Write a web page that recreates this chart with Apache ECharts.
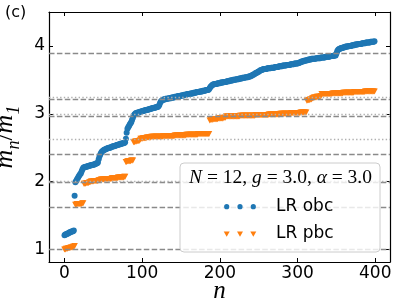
<!DOCTYPE html>
<html><head><meta charset="utf-8">
<script src="https://cdn.jsdelivr.net/npm/echarts@6/dist/echarts.min.js"></script>
<style>html,body{margin:0;padding:0;background:#fff}#c{width:407px;height:305px}</style>
</head><body><div id="c"></div>
<script>
// m_n/m_1 for open boundary conditions (LR obc), n = 0..399
const obc = [
1.21,1.22,1.22,1.23,1.23,1.24,1.25,1.25,1.26,1.26,1.27,1.27,1.28,
1.79,
1.99,2.01,2.03,2.05,2.07,2.09,2.11,2.12,
2.15,2.18,2.20,
2.21,2.21,2.22,2.22,2.22,2.23,2.23,2.23,2.24,2.24,2.24,2.25,2.25,2.25,2.26,2.26,2.27,2.27,2.28,
2.33,2.37,2.40,
2.42,2.44,2.45,2.46,2.47,2.47,2.48,
2.48,2.49,2.49,2.50,2.50,2.50,2.51,2.51,2.52,2.52,2.52,2.53,2.53,2.54,2.54,2.54,2.55,2.55,2.55,2.56,2.56,2.56,2.57,2.57,2.58,
2.63,2.72,2.78,
2.80,2.82,2.84,2.86,2.88,2.91,2.94,
2.97,2.99,3.00,3.01,
3.01,3.02,3.02,3.02,3.03,3.03,3.03,3.04,3.04,3.04,3.05,3.05,3.05,3.06,3.06,3.06,3.07,3.07,3.07,3.08,3.08,3.08,3.09,3.09,3.09,3.10,3.10,3.10,3.11,
3.13,3.16,3.18,3.19,3.20,3.21,
3.21,3.21,3.22,3.22,3.22,3.22,3.23,3.23,3.23,3.23,3.24,3.24,3.24,3.24,3.25,3.25,3.25,3.25,3.26,3.26,3.26,3.26,3.27,3.27,3.27,3.27,3.28,3.28,3.28,3.28,3.29,3.29,3.29,3.29,3.30,3.30,3.30,3.30,3.31,3.31,3.31,3.31,3.32,3.32,3.32,3.32,3.33,3.33,3.33,3.33,3.34,3.34,3.34,3.34,3.35,3.35,3.35,3.35,
3.36,3.38,3.40,3.41,3.42,3.43,3.43,3.44,3.44,3.44,
3.44,3.45,3.45,3.45,3.45,3.46,3.46,3.46,3.46,3.47,3.47,3.47,3.47,3.48,3.48,3.48,3.48,3.49,3.49,3.49,3.49,3.50,3.50,3.50,3.50,3.51,3.51,3.51,3.51,3.52,3.52,3.52,3.52,3.53,3.53,3.53,3.53,3.54,3.54,3.54,3.54,3.55,3.55,3.55,
3.56,3.56,3.57,3.58,3.58,3.59,3.60,3.60,3.61,3.62,3.62,3.63,3.64,3.64,3.65,
3.65,3.66,3.66,3.66,3.66,3.66,3.67,3.67,3.67,3.67,3.67,3.68,3.68,3.68,3.68,3.68,3.69,3.69,3.69,3.69,3.69,3.70,3.70,3.70,3.70,3.70,3.71,3.71,3.71,3.71,3.71,3.72,3.72,3.72,3.72,3.72,3.73,3.73,3.73,3.73,3.73,3.74,3.74,3.74,3.74,3.74,
3.75,3.75,3.76,3.76,3.77,3.77,3.77,3.78,3.78,3.78,3.79,3.79,3.79,3.80,
3.80,3.80,3.80,3.81,3.81,3.81,3.81,3.81,3.81,3.82,3.82,3.82,3.82,3.82,3.82,3.83,3.83,3.83,3.83,3.83,3.83,3.84,3.84,3.84,3.84,3.84,3.84,3.85,3.85,3.85,3.85,3.85,3.86,3.86,3.86,
3.89,3.92,3.94,3.95,
3.96,3.96,3.97,3.97,3.97,3.98,3.98,3.98,3.99,3.99,3.99,3.99,4.00,4.00,4.00,4.00,4.01,4.01,4.01,4.01,4.02,4.02,4.02,4.02,4.03,4.03,4.03,4.03,4.03,4.04,4.04,4.04,4.04,4.04,4.05,4.05,4.05,4.05,4.05,4.05,4.06,4.06,4.06,4.06,4.06,4.07
];
// m_n/m_1 for periodic boundary conditions (LR pbc), n = 0..399
const pbc = [
1.00,1.00,1.01,1.01,1.01,1.02,1.02,1.02,1.03,1.03,1.03,1.04,1.04,1.05,
1.66,1.66,1.67,1.67,1.67,1.67,1.67,1.67,1.67,1.68,1.68,
1.97,1.97,1.97,1.98,1.98,1.98,1.98,1.99,1.99,
2.00,2.00,2.00,2.00,2.01,2.01,2.01,2.01,2.01,2.01,2.02,2.02,2.02,
2.03,2.03,2.03,2.03,2.03,2.03,2.04,2.04,2.04,2.04,2.04,2.04,2.04,2.04,2.05,2.05,2.05,2.05,2.05,2.05,2.05,2.05,2.06,2.06,2.06,2.06,2.06,2.06,2.06,2.06,2.07,2.07,
2.29,2.29,2.30,2.30,2.30,2.30,2.30,2.31,2.31,2.31,
2.58,2.58,2.59,2.59,2.59,2.60,2.60,2.60,2.61,
2.63,2.63,2.63,2.64,2.64,2.64,2.64,2.64,2.65,2.65,2.65,2.65,2.65,2.65,2.66,
2.66,2.66,2.66,2.66,2.66,2.66,2.66,2.66,2.66,2.66,2.66,2.66,2.66,2.66,
2.67,2.67,2.67,2.67,2.67,2.67,2.67,2.67,2.67,2.67,2.67,2.67,2.67,2.67,2.67,
2.68,2.68,2.68,2.68,2.68,2.68,2.68,2.68,2.68,2.68,2.68,2.68,2.68,2.68,2.68,
2.69,2.69,2.69,2.69,2.69,2.69,2.69,2.69,2.69,2.69,2.69,2.69,2.69,2.69,2.69,
2.70,2.70,2.70,2.70,2.70,2.70,2.70,2.70,2.70,2.70,2.70,2.70,2.70,2.70,2.70,
2.90,2.91,2.91,2.91,2.91,2.92,2.92,2.92,2.92,2.92,2.92,2.93,2.93,2.93,2.93,2.93,2.93,2.93,2.94,2.94,2.94,
2.96,2.96,2.96,2.96,2.96,2.96,2.96,2.96,2.96,2.96,2.96,2.96,2.96,2.96,2.96,2.96,2.96,2.96,
2.97,2.97,2.97,2.97,2.97,2.97,2.97,2.97,2.97,2.97,2.97,2.97,2.97,2.97,2.97,2.97,2.97,2.97,2.97,2.97,
2.98,2.98,2.98,2.98,2.98,2.98,2.98,2.98,2.98,2.98,2.98,2.98,2.98,2.98,2.98,2.98,2.98,
2.99,2.99,2.99,2.99,2.99,2.99,2.99,2.99,2.99,2.99,2.99,2.99,2.99,2.99,2.99,
3.00,3.00,3.00,3.00,3.00,3.00,3.00,3.00,3.00,3.00,3.00,3.00,3.00,3.00,
3.01,3.01,3.01,3.01,3.01,3.01,3.01,3.01,3.01,3.01,3.01,3.01,
3.02,3.02,3.02,3.02,3.02,3.02,3.02,3.02,
3.19,3.20,3.20,3.20,3.21,3.21,3.21,
3.23,3.23,3.24,3.24,3.24,3.24,3.25,3.25,3.25,3.25,3.25,3.26,
3.29,3.29,3.29,3.29,3.29,3.29,3.29,3.29,3.29,3.29,3.29,3.29,3.29,3.29,
3.30,3.30,3.30,3.30,3.30,3.30,3.30,3.30,3.30,3.30,3.30,3.30,3.30,3.30,
3.31,3.31,3.31,3.31,3.31,3.31,3.31,3.31,3.31,3.31,3.31,3.31,3.31,3.31,
3.32,3.32,3.32,3.32,3.32,3.32,3.32,3.32,3.32,3.32,3.32,3.32,3.32,3.32,
3.33,3.33,3.33,3.33,3.33,3.33,3.33,3.33,3.33,3.33,3.33,3.33,3.33
];
// reference lines
const massLines = [1.0, 1.618, 1.989, 2.405, 2.956, 3.218, 3.891];   // dashed
const thresholdLines = [2.0, 2.618, 2.989, 3.236];                  // dotted
const xTicks = [0, 100, 200, 300, 400];
const yTicks = [1, 2, 3, 4];
const seriesNames = ['LR obc', 'LR pbc'];
const legendTitle = ['N', ' = 12, ', 'g', ' = 3.0, ', 'α', ' = 3.0'];

const BLUE = '#1f77b4', ORANGE = '#ff7f0e';
const SANS = 'DejaVu Sans', SERIF = 'Liberation Serif';
const xr = [-19.95, 418.95], yr = [0.815, 4.5];

const chart = echarts.init(document.getElementById('c'), null, {renderer: 'canvas'});

const baseAxis = {
  type: 'value', splitLine: {show: false},
  axisLine: {show: true, onZero: false, lineStyle: {color: '#000', width: 1.2}},
  axisTick: {show: true, inside: true, length: 4, lineStyle: {color: '#000', width: 1}}
};
function xAx(pos, show) {
  return Object.assign({}, baseAxis, {
    position: pos, min: xr[0], max: xr[1],
    axisTick: Object.assign({}, baseAxis.axisTick, {customValues: xTicks}),
    axisLabel: {show: show, customValues: xTicks, margin: 3, color: '#000', fontFamily: SANS, fontSize: 17},
    name: show ? 'n' : '', nameLocation: 'middle', nameGap: 17, nameMoveOverlap: false,
    nameTextStyle: {fontFamily: SERIF, fontStyle: 'italic', fontSize: 25, color: '#000', verticalAlign: 'top'}
  });
}
function yAx(pos, show) {
  return Object.assign({}, baseAxis, {
    position: pos, min: yr[0], max: yr[1],
    axisTick: Object.assign({}, baseAxis.axisTick, {customValues: yTicks}),
    axisLabel: {show: show, customValues: yTicks, margin: 4, color: '#000', fontFamily: SANS, fontSize: 17},
    name: show ? '{m|m}{s|n}{r|/}{m|m}{s|1}' : '', nameLocation: 'middle', nameGap: 20, nameRotate: 90,
    nameTextStyle: {
      color: '#000',
      rich: {
        m: {fontFamily: SERIF, fontStyle: 'italic', fontSize: 26, lineHeight: 26, padding: [0,0,5,0], verticalAlign: 'bottom', color: '#000'},
        r: {fontFamily: SERIF, fontSize: 26, lineHeight: 26, padding: [0,0,5,0], verticalAlign: 'bottom', color: '#000'},
        s: {fontFamily: SERIF, fontStyle: 'italic', fontSize: 18, lineHeight: 18, verticalAlign: 'bottom', color: '#000'}
      }
    }
  });
}

const lineData = massLines.map(v => ({yAxis: v, lineStyle: {type: [5.5, 2.4], color: '#8a8a8a', width: 1.4}}))
  .concat(thresholdLines.map(v => ({yAxis: v, lineStyle: {type: [1.4, 2.3], color: '#b0b0b0', width: 1.4}})));

const tx = 280.5, lg = {x: 180, y: 163, w: 200, h: 89};
const markX = [226.7, 240, 253.3];
const legendEls = [
  {type: 'rect', shape: {x: lg.x, y: lg.y, width: lg.w, height: lg.h, r: 4},
   style: {fill: 'rgba(255,255,255,0.8)', stroke: '#cccccc', lineWidth: 1}, z: 100},
  {type: 'text', x: tx, y: 178, z: 101, style: {
    text: '{i|' + legendTitle[0] + '}{r|' + legendTitle[1] + '}{i|' + legendTitle[2] + '}{r|' + legendTitle[3] + '}{i|' + legendTitle[4] + '}{r|' + legendTitle[5] + '}',
    align: 'center', verticalAlign: 'middle',
    rich: {i: {fontFamily: SERIF, fontStyle: 'italic', fontSize: 19.5, fill: '#000'},
           r: {fontFamily: SERIF, fontSize: 19.5, fill: '#000'}}}},
  {type: 'text', x: 276, y: 206.7, z: 101, style: {text: seriesNames[0], font: '17px "DejaVu Sans"', fill: '#000', align: 'left', verticalAlign: 'middle'}},
  {type: 'text', x: 276, y: 234, z: 101, style: {text: seriesNames[1], font: '17px "DejaVu Sans"', fill: '#000', align: 'left', verticalAlign: 'middle'}}
];
markX.forEach(x => {
  legendEls.push({type: 'circle', z: 101, shape: {cx: x, cy: 206.7, r: 2.6}, style: {fill: BLUE}});
  legendEls.push({type: 'polygon', z: 101, shape: {points: [[x - 3, 231.5], [x + 3, 231.5], [x, 236.8]]}, style: {fill: ORANGE}});
});
legendEls.push({type: 'text', x: 5, y: 5, z: 101, style: {text: '(c)', font: '16px "DejaVu Sans"', fill: '#000', align: 'left', verticalAlign: 'top'}});

chart.setOption({
  animation: false,
  grid: {left: 49, right: 17, top: 12, bottom: 43, containLabel: false, outerBoundsMode: 'none'},
  xAxis: [xAx('bottom', true), xAx('top', false)],
  yAxis: [yAx('left', true), yAx('right', false)],
  series: [
    {type: 'line', data: [], z: 1, markLine: {silent: true, symbol: ['none', 'none'], label: {show: false}, data: lineData, animation: false}},
    {name: seriesNames[0], type: 'scatter', z: 3, symbol: 'circle', symbolSize: 6, itemStyle: {color: BLUE, opacity: 1},
     data: obc.map((v, i) => [i, v])},
    {name: seriesNames[1], type: 'scatter', z: 4, symbol: 'triangle', symbolRotate: 180, symbolSize: [6.5, 6], itemStyle: {color: ORANGE, opacity: 1},
     data: pbc.map((v, i) => [i, v])}
  ],
  graphic: legendEls
});
</script></body></html>
